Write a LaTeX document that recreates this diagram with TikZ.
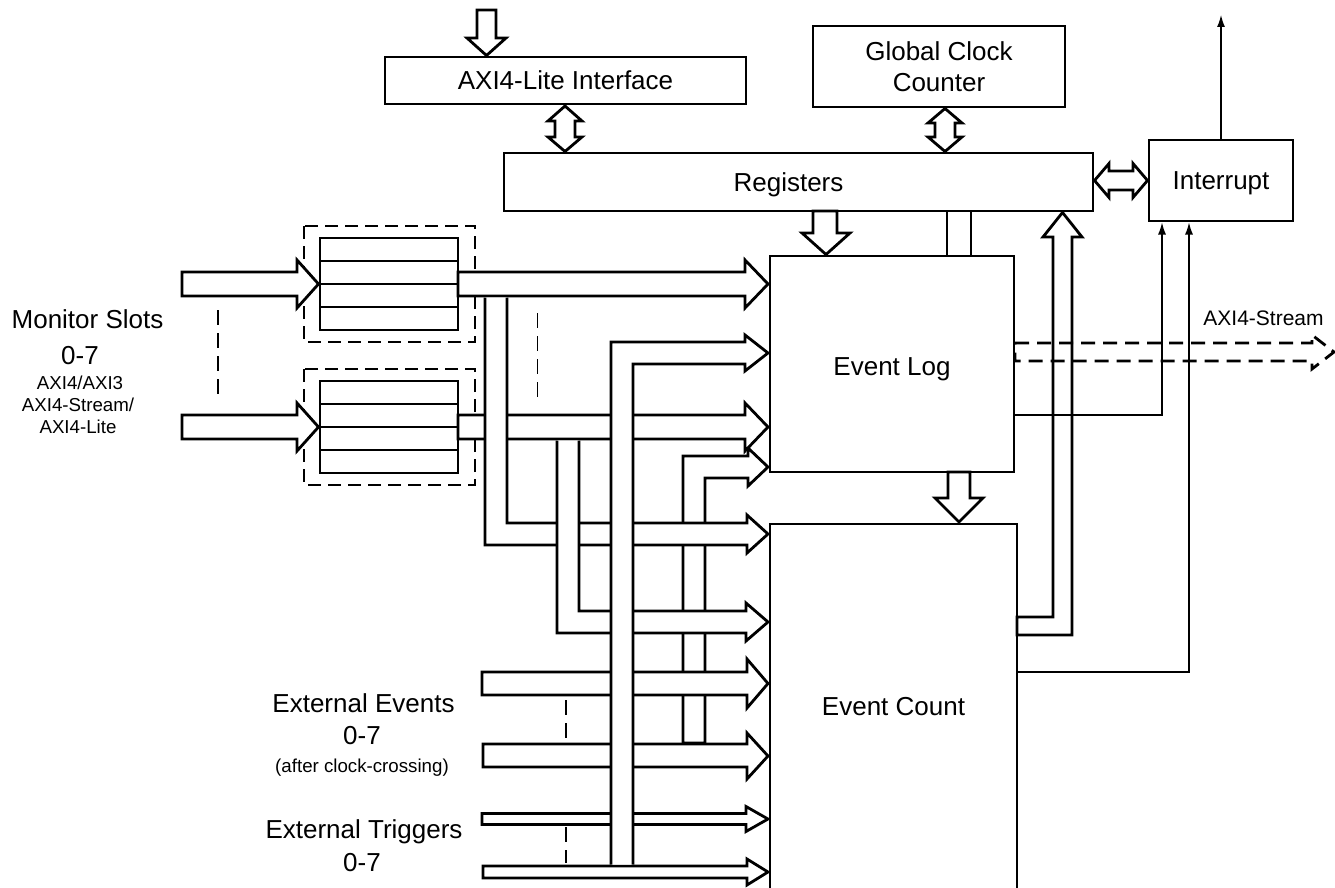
\documentclass[tikz,border=0pt]{standalone}
\usepackage{fontspec}
\setmainfont{Liberation Sans}
\usetikzlibrary{arrows.meta}
\newcommand\myBig{\fontsize{26}{31}\selectfont}
\newcommand\mySmall{\fontsize{18.7}{22}\selectfont}
\newcommand\myMid{\fontsize{21}{25}\selectfont}
\begin{document}
\begin{tikzpicture}[x=1pt,y=-1pt,
  blk/.style={draw, line width=2.8pt, fill=white, inner sep=0pt, outer sep=0pt, font=\myBig, align=center, text depth=0pt},
  hol/.style={draw, fill=white, line width=2.8pt, line join=miter},
  barline/.style={line width=2.8pt},
  conn/.style={line width=1.3pt, -{Latex[length=12pt,width=8pt]}},
  wire/.style={line width=1.3pt},
  dbox/.style={line width=2.8pt, dash pattern=on 13pt off 7pt},
  ell/.style={line width=1.3pt, dash pattern=on 15pt off 8pt},
  sdash/.style={line width=2.8pt, dash pattern=on 14pt off 8pt, line join=miter},
  lbl/.style={anchor=base, inner sep=0pt, font=\myBig},
  slbl/.style={anchor=base, inner sep=0pt, font=\mySmall},
  mlbl/.style={anchor=base, inner sep=0pt, font=\myMid}]
\useasboundingbox[fill=white] (0,0) rectangle (1335,888);

% ---------- blocks ----------
\node[blk, minimum width=361pt, minimum height=47pt] (axil) at (565.5,80.5) {AXI4-Lite Interface};
\node[blk, minimum width=252pt, minimum height=81pt] (gcc) at (939,66.5) {Global Clock\\Counter};
\node[blk, minimum width=589pt, minimum height=58pt] (regs) at (798.5,182) {Registers\hspace*{20pt}};
\node[blk, minimum width=144pt, minimum height=81pt] (intr) at (1221,180.5) {Interrupt};
\node[blk, minimum width=244pt, minimum height=216pt, text height=23pt] (log) at (892,364) {Event Log};
\node[blk, minimum width=247pt, minimum height=376pt] (count) at (893.5,712) {};
\node[lbl, anchor=center, text depth=0pt] (countlbl) at (893.5,706) {Event Count};

% ---------- FIFOs ----------
\draw[dbox] (304,226) rectangle (475,342);
\draw[dbox] (304,369) rectangle (475,485);
\node[blk, minimum width=138pt, minimum height=92pt] (fifo1) at (389,284) {};
\node[blk, minimum width=138pt, minimum height=92pt] (fifo2) at (389,427) {};
\foreach \yy in {261,284,307} \draw[barline] (320,\yy) -- (458,\yy);
\foreach \yy in {404,427,450} \draw[barline] (320,\yy) -- (458,\yy);

% ---------- inputs ----------
\filldraw[hol] (182,272) -- (297,272) -- (297,260) -- (318.5,284) -- (297,308) -- (297,296) -- (182,296) -- cycle;
\filldraw[hol] (182,415) -- (297,415) -- (297,403) -- (318.5,427) -- (297,451) -- (297,439) -- (182,439) -- cycle;
\draw[ell] (218,310) -- (218,397);
\draw[ell] (537.5,313) -- (537.5,400);

% ---------- top arrows ----------
\filldraw[hol] (477,10) -- (496,10) -- (496,38) -- (506,38) -- (486.5,55.5) -- (467,38) -- (477,38) -- cycle;
% AXI4-Lite <-> Registers
\filldraw[hol] (565,106) -- (582,121) -- (575,121) -- (575,137) -- (582,137) -- (565,151.5) -- (548,137) -- (555,137) -- (555,121) -- (548,121) -- cycle;
% Global Clock <-> Registers
\filldraw[hol] (945,108.5) -- (962,123) -- (955,123) -- (955,137) -- (962,137) -- (945,151.5) -- (928,137) -- (935,137) -- (935,123) -- (928,123) -- cycle;
% Registers <-> Interrupt
\filldraw[hol] (1094.5,180.5) -- (1109,163.5) -- (1109,171) -- (1133,171) -- (1133,163.5) -- (1147.5,180.5) -- (1133,197.5) -- (1133,190) -- (1109,190) -- (1109,197.5) -- cycle;
% Registers -> Event Log
\filldraw[hol] (813,211) -- (837,211) -- (837,233) -- (850,233) -- (826,254.5) -- (802,233) -- (813,233) -- cycle;
% bar Registers - Event Log
\draw[barline] (947,211) -- (947,256);
\draw[barline] (971,211) -- (971,256);
% Event Log -> Event Count
\filldraw[hol] (948,472) -- (970,472) -- (970,498) -- (983,498) -- (959,522) -- (935,498) -- (948,498) -- cycle;
% Event Count -> Registers
\filldraw[hol] (1017,617) -- (1053,617) -- (1053,237) -- (1043,237) -- (1062.5,212.5) -- (1082,237) -- (1072,237) -- (1072,635) -- (1017,635) -- cycle;

% ---------- buses and inputs into Event Log / Event Count ----------
% External Event bus -> Event Log
\filldraw[hol] (683,743) -- (683,456) -- (748,456) -- (748,448) -- (768,467) -- (748,486) -- (748,478) -- (705,478) -- (705,743) -- cycle;
% FIFO 2 output
\filldraw[hol] (458,415) -- (745,415) -- (745,403) -- (768,427) -- (745,451) -- (745,439) -- (458,439) -- cycle;
% FIFO 1 output
\filldraw[hol] (458,272) -- (745,272) -- (745,260) -- (768,284) -- (745,308) -- (745,296) -- (458,296) -- cycle;
% FIFO 1 bus -> Event Count
\filldraw[hol] (485,297.5) -- (485,545) -- (747,545) -- (747,553) -- (768,534) -- (747,515) -- (747,523) -- (507,523) -- (507,297.5);
% FIFO 2 bus -> Event Count
\filldraw[hol] (557,440.5) -- (557,633) -- (746,633) -- (746,641) -- (768,622) -- (746,603) -- (746,611) -- (579,611) -- (579,440.5);
% External events
\filldraw[hol] (482,672) -- (747,672) -- (747,659) -- (768,683.5) -- (747,708) -- (747,695) -- (482,695) -- cycle;
\filldraw[hol] (483,744) -- (747,744) -- (747,733) -- (768,756) -- (747,779) -- (747,767) -- (483,767) -- cycle;
% External triggers
\filldraw[hol] (482,813.5) -- (746,813.5) -- (746,806.5) -- (768,819) -- (746,831.5) -- (746,824.5) -- (482,824.5) -- cycle;
\filldraw[hol] (483,866) -- (747,866) -- (747,859) -- (768,872) -- (747,885) -- (747,878) -- (483,878) -- cycle;
% Trigger bus -> Event Log
\filldraw[hol] (611,864.5) -- (611,342) -- (745,342) -- (745,335) -- (768,353) -- (745,371) -- (745,364) -- (633,364) -- (633,864.5);
\draw[ell] (566,700) -- (566,738);
\draw[ell] (566,827) -- (566,863);

% ---------- AXI4-Stream ----------
\draw[sdash] (1015,343) -- (1312,343) -- (1312,335) -- (1334,352) -- (1312,369) -- (1312,361) -- (1015,361) -- cycle;
\node[mlbl] (strlbl) at (1263.5,325) {AXI4-Stream};

% ---------- thin connectors ----------
\coordinate (lo) at (1014,415);
\coordinate (co) at (1017,672);
\coordinate (i1) at (1162,222.5);
\coordinate (i2) at (1189,222.5);
\coordinate (irq) at (1221,15);
\draw[conn] (lo) -| (i1);
\draw[conn] (co) -| (i2);
\draw[conn] (intr.north) -- (irq);

% ---------- labels ----------
\node[lbl] (ms) at (87.5,328) {Monitor Slots};
\node[lbl] (ms2) at (80,364) {0-7};
\node[slbl] (ms3) at (80,389) {AXI4/AXI3};
\node[slbl] (ms4) at (78,411) {AXI4-Stream/};
\node[slbl] (ms5) at (78,433) {AXI4-Lite};
\node[lbl] (ee) at (363.5,712) {External Events};
\node[lbl] (ee2) at (362,744) {0-7};
\node[slbl] (ee3) at (362,772) {(after clock-crossing)};
\node[lbl] (et) at (364,838) {External Triggers};
\node[lbl] (et2) at (362,871) {0-7};
\end{tikzpicture}
\end{document}
